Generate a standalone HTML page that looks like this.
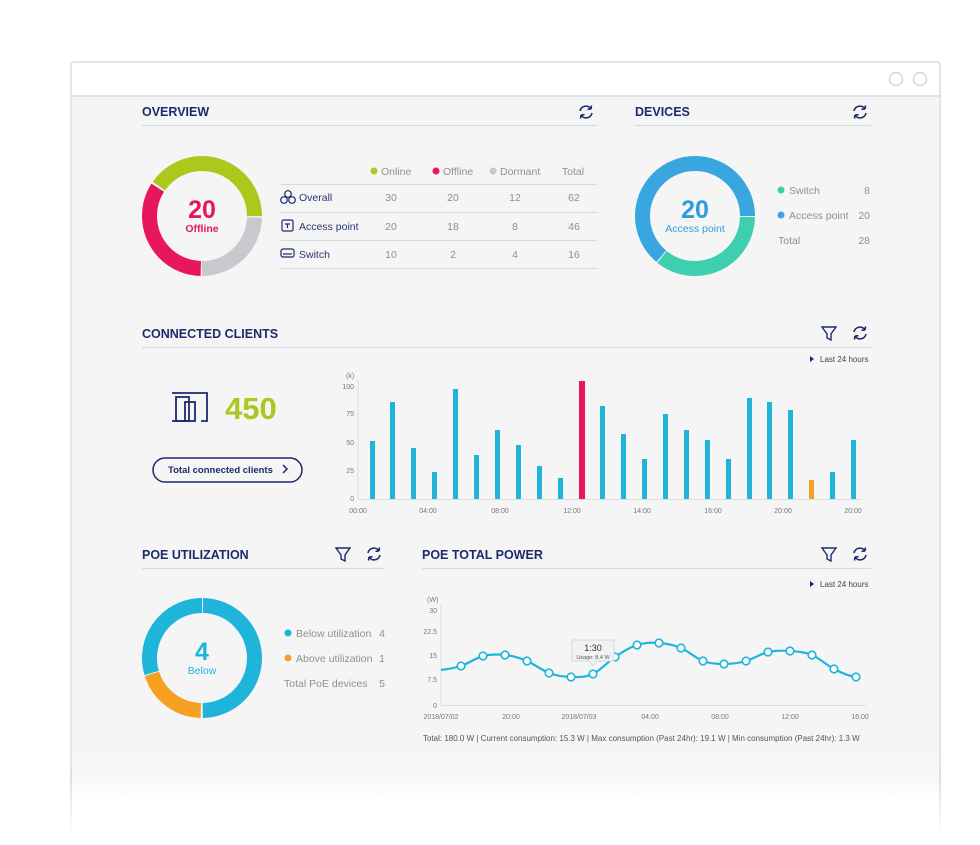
<!DOCTYPE html>
<html><head><meta charset="utf-8"><style>
html,body{margin:0;padding:0;background:#fff;width:980px;height:845px;overflow:hidden}
svg{display:block;font-family:"Liberation Sans",sans-serif}
.h{font-size:12.5px;font-weight:bold;fill:#1c2a6b}
.g{font-size:10.5px;fill:#8f8f8f}
.n{font-size:10.5px;fill:#2a3570}
.t{font-size:7px;fill:#777}
.ln{stroke:#d8d9de;stroke-width:1.3}
</style></head><body>
<svg width="980" height="845" viewBox="0 0 980 845">
<defs>
<linearGradient id="fade" x1="0" y1="0" x2="0" y2="1">
<stop offset="0" stop-color="#f5f5f6" stop-opacity="0"/><stop offset="1" stop-color="#fff" stop-opacity="1"/></linearGradient>
<linearGradient id="bfade" x1="0" y1="0" x2="0" y2="1">
<stop offset="0" stop-color="#d6dbe6"/><stop offset="1" stop-color="#fff"/></linearGradient>
<g id="ref" fill="none" stroke="#1c2a6b" stroke-width="1.6">
<path d="M-6,-1 A6,6 0 0 1 5,-3"/><path d="M6,1 A6,6 0 0 1 -5,3"/>
<path d="M5,-3 l0.5,-3.5 M5,-3 l-3.5,0.3" /><path d="M-5,3 l-0.5,3.5 M-5,3 l3.5,-0.3"/>
</g>
<g id="fil" fill="none" stroke="#1c2a6b" stroke-width="1.4"><path d="M-7,-6 H7 L2,1 V7 L-2,5 V1 Z"/></g>
</defs>
<rect x="71" y="62" width="869" height="800" fill="#fff" stroke="#d6dbe6" stroke-width="1.5" rx="3"/>
<rect x="72" y="96" width="867" height="700" fill="#f5f5f6"/>
<line x1="71" y1="96" x2="940" y2="96" stroke="#d6dbe6" stroke-width="1.5"/>
<circle cx="896" cy="79" r="6.5" fill="none" stroke="#cfd3dc" stroke-width="1.3"/>
<circle cx="920" cy="79" r="6.5" fill="none" stroke="#cfd3dc" stroke-width="1.3"/>

<text x="142" y="116" class="h">OVERVIEW</text>
<line x1="142" y1="125.5" x2="597" y2="125.5" class="ln"/>
<use href="#ref" x="586" y="112"/>
<g transform="translate(202,216) rotate(-90)" fill="none" stroke-width="15">
<circle r="52.5" stroke="#adc81c" stroke-dasharray="82.5 999" stroke-dashoffset="0"/>
<circle r="52.5" stroke="#adc81c" stroke-dasharray="52 999" stroke-dashoffset="-279"/>
<circle r="52.5" stroke="#c9c9cd" stroke-dasharray="81 999" stroke-dashoffset="-84"/>
<circle r="52.5" stroke="#e8165a" stroke-dasharray="111 999" stroke-dashoffset="-166"/>
</g>
<text x="202" y="218" text-anchor="middle" style="font-size:25px;font-weight:bold;fill:#e8165a">20</text>
<text x="202" y="232" text-anchor="middle" style="font-size:10.5px;font-weight:bold;fill:#e8165a">Offline</text>
<circle cx="374" cy="171" r="3.5" fill="#adc81c"/><text x="381" y="175" class="g">Online</text>
<circle cx="436" cy="171" r="3.5" fill="#e8165a"/><text x="443" y="175" class="g">Offline</text>
<circle cx="493" cy="171" r="3.5" fill="#c9c9cd"/><text x="500" y="175" class="g">Dormant</text>
<text x="573" y="175" class="g" text-anchor="middle">Total</text>
<line x1="281" y1="184.5" x2="597" y2="184.5" class="ln"/>
<line x1="281" y1="212.5" x2="597" y2="212.5" class="ln"/>
<line x1="281" y1="240.5" x2="597" y2="240.5" class="ln"/>
<line x1="281" y1="268.5" x2="597" y2="268.5" class="ln"/>
<g fill="none" stroke="#1c2a6b" stroke-width="1.2">
<circle cx="288" cy="194" r="3.3"/><circle cx="284" cy="200" r="3.3"/><circle cx="292" cy="200" r="3.3"/>
<rect x="282" y="220" width="11" height="11" rx="1.5"/><path d="M285,224 h5 M287.5,224 v4"/>
<rect x="281" y="249" width="13" height="8" rx="2"/><path d="M283,254 h9"/>
</g>
<text x="299" y="201" class="n">Overall</text>
<text x="299" y="230" class="n">Access point</text>
<text x="299" y="258" class="n">Switch</text>
<g text-anchor="middle">
<text x="391" y="201" class="g">30</text><text x="453" y="201" class="g">20</text><text x="515" y="201" class="g">12</text><text x="574" y="201" class="g">62</text>
<text x="391" y="230" class="g">20</text><text x="453" y="230" class="g">18</text><text x="515" y="230" class="g">8</text><text x="574" y="230" class="g">46</text>
<text x="391" y="258" class="g">10</text><text x="453" y="258" class="g">2</text><text x="515" y="258" class="g">4</text><text x="574" y="258" class="g">16</text>
</g>

<text x="635" y="116" class="h">DEVICES</text>
<line x1="635" y1="125.5" x2="871" y2="125.5" class="ln"/>
<use href="#ref" x="860" y="112"/>
<g transform="translate(695,216)" fill="none" stroke-width="15">
<circle r="52.5" stroke="#3aa6e0" stroke-dasharray="211 999" stroke-dashoffset="-119"/>
<circle r="52.5" stroke="#3ecfaf" stroke-dasharray="117 999" stroke-dashoffset="-1"/>
</g>
<text x="695" y="218" text-anchor="middle" style="font-size:25px;font-weight:bold;fill:#2f9ed8">20</text>
<text x="695" y="232" text-anchor="middle" style="font-size:10.5px;fill:#2f9ed8">Access point</text>
<circle cx="781" cy="190" r="3.5" fill="#3ecfaf"/><text x="789" y="194" class="g">Switch</text><text x="870" y="194" class="g" text-anchor="end">8</text>
<circle cx="781" cy="215" r="3.5" fill="#3aa6e0"/><text x="789" y="219" class="g">Access point</text><text x="870" y="219" class="g" text-anchor="end">20</text>
<text x="778" y="244" class="g">Total</text><text x="870" y="244" class="g" text-anchor="end">28</text>

<text x="142" y="338" class="h">CONNECTED CLIENTS</text>
<line x1="142" y1="347.5" x2="871" y2="347.5" class="ln"/>
<use href="#fil" x="829" y="333"/><use href="#ref" x="860" y="333"/>
<path d="M810,356 l4,3 l-4,3z" fill="#1c2a6b"/><text x="820" y="362" style="font-size:8px;fill:#444">Last 24 hours</text>
<g fill="none" stroke="#1c2a6b" stroke-width="1.8">
<path d="M172,393 H207 V421 H201 M186,421 H172 Z" />
<rect x="176" y="397" width="13" height="24"/><rect x="185" y="402" width="10" height="19"/>
</g>
<text x="225" y="419" style="font-size:31px;font-weight:bold;fill:#adc81c">450</text>
<rect x="153" y="458" width="149" height="24" rx="12" fill="none" stroke="#1c2a6b" stroke-width="1.5"/>
<text x="168" y="473" style="font-size:9.5px;font-weight:bold;fill:#1c2a6b">Total connected clients</text>
<path d="M283,465 l4,4 l-4,4" fill="none" stroke="#1c2a6b" stroke-width="1.5"/>
<g>
<text x="346" y="378" class="t">(k)</text>
<text x="354" y="389" text-anchor="end" class="t">100</text>
<text x="354" y="416" text-anchor="end" class="t">75</text>
<text x="354" y="445" text-anchor="end" class="t">50</text>
<text x="354" y="473" text-anchor="end" class="t">25</text>
<text x="354" y="501" text-anchor="end" class="t">0</text>
<text x="358" y="513" text-anchor="middle" class="t">00:00</text>
<text x="428" y="513" text-anchor="middle" class="t">04:00</text>
<text x="500" y="513" text-anchor="middle" class="t">08:00</text>
<text x="572" y="513" text-anchor="middle" class="t">12:00</text>
<text x="642" y="513" text-anchor="middle" class="t">14:00</text>
<text x="713" y="513" text-anchor="middle" class="t">16:00</text>
<text x="783" y="513" text-anchor="middle" class="t">20:00</text>
<text x="853" y="513" text-anchor="middle" class="t">20:00</text>
</g>
<line x1="358" y1="380" x2="358" y2="499" stroke="#ddd"/>
<line x1="358" y1="499.5" x2="862" y2="499.5" stroke="#ddd"/>
<g fill="#1fb4da">
<rect x="370" y="441" width="5" height="58"/>
<rect x="390" y="402" width="5" height="97"/>
<rect x="411" y="448" width="5" height="51"/>
<rect x="432" y="472" width="5" height="27"/>
<rect x="453" y="389" width="5" height="110"/>
<rect x="474" y="455" width="5" height="44"/>
<rect x="495" y="430" width="5" height="69"/>
<rect x="516" y="445" width="5" height="54"/>
<rect x="537" y="466" width="5" height="33"/>
<rect x="558" y="478" width="5" height="21"/>
<rect x="579" y="381" width="6" height="118" fill="#e8165a"/>
<rect x="600" y="406" width="5" height="93"/>
<rect x="621" y="434" width="5" height="65"/>
<rect x="642" y="459" width="5" height="40"/>
<rect x="663" y="414" width="5" height="85"/>
<rect x="684" y="430" width="5" height="69"/>
<rect x="705" y="440" width="5" height="59"/>
<rect x="726" y="459" width="5" height="40"/>
<rect x="747" y="398" width="5" height="101"/>
<rect x="767" y="402" width="5" height="97"/>
<rect x="788" y="410" width="5" height="89"/>
<rect x="809" y="480" width="5" height="19" fill="#f5a021"/>
<rect x="830" y="472" width="5" height="27"/>
<rect x="851" y="440" width="5" height="59"/>
</g>

<text x="142" y="559" class="h">POE UTILIZATION</text>
<line x1="142" y1="568.5" x2="385" y2="568.5" class="ln"/>
<use href="#fil" x="343" y="554"/><use href="#ref" x="374" y="554"/>
<g transform="translate(202,658) rotate(-90)" fill="none" stroke-width="15">
<circle r="52.5" stroke="#1fb4da" stroke-dasharray="163 999" stroke-dashoffset="-1"/>
<circle r="52.5" stroke="#1fb4da" stroke-dasharray="98 999" stroke-dashoffset="-232"/>
<circle r="52.5" stroke="#f5a021" stroke-dasharray="65 999" stroke-dashoffset="-166"/>
</g>
<text x="202" y="660" text-anchor="middle" style="font-size:25px;font-weight:bold;fill:#1fb4da">4</text>
<text x="202" y="674" text-anchor="middle" style="font-size:10.5px;fill:#1fb4da">Below</text>
<circle cx="288" cy="633" r="3.5" fill="#1fb4da"/><text x="296" y="637" class="g">Below utilization</text><text x="385" y="637" class="g" text-anchor="end">4</text>
<circle cx="288" cy="658" r="3.5" fill="#f5a021"/><text x="296" y="662" class="g">Above utilization</text><text x="385" y="662" class="g" text-anchor="end">1</text>
<text x="284" y="687" class="g">Total PoE devices</text><text x="385" y="687" class="g" text-anchor="end">5</text>

<text x="422" y="559" class="h">POE TOTAL POWER</text>
<line x1="422" y1="568.5" x2="871" y2="568.5" class="ln"/>
<use href="#fil" x="829" y="554"/><use href="#ref" x="860" y="554"/>
<path d="M810,581 l4,3 l-4,3z" fill="#1c2a6b"/><text x="820" y="587" style="font-size:8px;fill:#444">Last 24 hours</text>
<g>
<text x="427" y="602" class="t">(W)</text>
<text x="437" y="613" text-anchor="end" class="t">30</text>
<text x="437" y="634" text-anchor="end" class="t">22.5</text>
<text x="437" y="658" text-anchor="end" class="t">15</text>
<text x="437" y="682" text-anchor="end" class="t">7.5</text>
<text x="437" y="708" text-anchor="end" class="t">0</text>
<text x="441" y="719" text-anchor="middle" class="t">2018/07/02</text>
<text x="511" y="719" text-anchor="middle" class="t">20:00</text>
<text x="579" y="719" text-anchor="middle" class="t">2018/07/03</text>
<text x="650" y="719" text-anchor="middle" class="t">04:00</text>
<text x="720" y="719" text-anchor="middle" class="t">08:00</text>
<text x="790" y="719" text-anchor="middle" class="t">12:00</text>
<text x="860" y="719" text-anchor="middle" class="t">16:00</text>
</g>
<line x1="441" y1="605" x2="441" y2="705" stroke="#ddd"/>
<line x1="441" y1="705.5" x2="866" y2="705.5" stroke="#ddd"/>
<path d="M441,670 C448,669 454,668.3 461,666 S476,657.8 483,656 S498,654.2 505,655 S520,658 527,661 S542,670.3 549,673 S564,676.8 571,677 S586,677.3 593,674 S608,661.8 615,657 S630,647.3 637,645 S652,642.5 659,643 S674,645 681,648 S696,658.3 703,661 S717,664 724,664 S739,663 746,661 S761,653.7 768,652 S783,650.5 790,651 S805,652 812,655 S827,665.3 834,669 S849,676 856,677" fill="none" stroke="#1fb4da" stroke-width="2.2"/>
<g fill="#fff" stroke="#1fb4da" stroke-width="1.6">
<circle cx="461" cy="666" r="3.8"/><circle cx="483" cy="656" r="3.8"/><circle cx="505" cy="655" r="3.8"/><circle cx="527" cy="661" r="3.8"/><circle cx="549" cy="673" r="3.8"/><circle cx="571" cy="677" r="3.8"/><circle cx="593" cy="674" r="3.8"/><circle cx="615" cy="657" r="3.8"/><circle cx="637" cy="645" r="3.8"/><circle cx="659" cy="643" r="3.8"/><circle cx="681" cy="648" r="3.8"/><circle cx="703" cy="661" r="3.8"/><circle cx="724" cy="664" r="3.8"/><circle cx="746" cy="661" r="3.8"/><circle cx="768" cy="652" r="3.8"/><circle cx="790" cy="651" r="3.8"/><circle cx="812" cy="655" r="3.8"/><circle cx="834" cy="669" r="3.8"/><circle cx="856" cy="677" r="3.8"/>
</g>
<path d="M572,640 H614 V661 H597 L593,666 L589,661 H572 Z" fill="#f1f2f4" stroke="#d5d7dc" stroke-width="1"/>
<text x="593" y="651" text-anchor="middle" style="font-size:9px;fill:#333">1:30</text>
<text x="593" y="659" text-anchor="middle" style="font-size:5.5px;fill:#555">Usage: 8.4 W</text>
<text x="423" y="741" style="font-size:8px;fill:#555">Total: 180.0 W  |  Current consumption: 15.3 W  |  Max consumption (Past 24hr): 19.1 W  |  Min consumption (Past 24hr): 1.3 W</text>

<rect x="72" y="745" width="867" height="55" fill="url(#fade)"/>
<rect x="0" y="800" width="980" height="45" fill="#fff"/>
<rect x="70" y="770" width="2" height="65" fill="url(#bfade)"/>
<rect x="939" y="770" width="2" height="65" fill="url(#bfade)"/>
</svg>
</body></html>
